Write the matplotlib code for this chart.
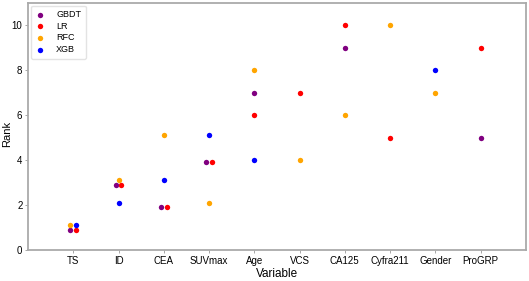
import numpy as np
import matplotlib
matplotlib.use('Agg')
import matplotlib.pyplot as plt

plt.rcParams['font.family'] = ['Liberation Sans', 'DejaVu Sans']

variables = ['TS', 'ID', 'CEA', 'SUVmax', 'Age', 'VCS', 'CA125', 'Cyfra211', 'Gender', 'ProGRP']
models = ['GBDT', 'LR', 'RFC', 'XGB']
colors = ['purple', 'red', 'orange', 'blue']

# rank of each variable per model (None = not ranked)
gbdt = [0.9, 2.9, 1.9, 3.9, 7, None, 9, None, None, 5]
lr = [0.9, 2.9, 1.9, 3.9, 6, 7, 10, 5, None, 9]
rfc = [1.1, 3.1, 5.1, 2.1, 8, 4, 6, 10, 7, None]
xgb = [1.1, 2.1, 3.1, 5.1, 4, None, None, None, 8, None]
ranks = [gbdt, lr, rfc, xgb]

step = 0.124  # horizontal spread for tied points

# spread points that share the same value in one category side by side
offsets = [[0.0] * len(variables) for _ in models]
for j in range(len(variables)):
    groups = {}
    for i in range(len(models)):
        v = ranks[i][j]
        if v is not None:
            groups.setdefault(v, []).append(i)
    for v, idx in groups.items():
        n = len(idx)
        for k, i in enumerate(idx):
            offsets[i][j] = (k - (n - 1) / 2) * step

fig, ax = plt.subplots(figsize=(5.29, 2.81), dpi=100)
fig.subplots_adjust(left=0.053, right=0.994, top=0.99, bottom=0.11)

for i, m in enumerate(models):
    xs = [j + offsets[i][j] for j in range(len(variables)) if ranks[i][j] is not None]
    ys = [ranks[i][j] for j in range(len(variables)) if ranks[i][j] is not None]
    ax.scatter(xs, ys, s=15, color=colors[i], label=m, linewidths=0, zorder=3)

ax.set_xlim(-1, 10)
ax.set_ylim(0, 11)
ax.set_xticks(range(len(variables)))
ax.set_xticklabels(variables)
ax.set_yticks([0, 2, 4, 6, 8, 10])
ax.tick_params(labelsize=7, length=2, width=0.6, color='#999999', pad=2)
ax.set_xlabel('Variable', fontsize=8.5, labelpad=2)
ax.set_ylabel('Rank', fontsize=8)
ax.yaxis.set_label_coords(-0.031, 0.47)
for sp in ax.spines.values():
    sp.set_color('#aaaaaa')
    sp.set_linewidth(1.3)

ax.legend(loc='upper left', fontsize=6.5, handlelength=1.0, handletextpad=1.3,
          borderpad=0.5, labelspacing=0.3, borderaxespad=0.3, frameon=True,
          edgecolor='#dddddd')

plt.savefig('out.png')
